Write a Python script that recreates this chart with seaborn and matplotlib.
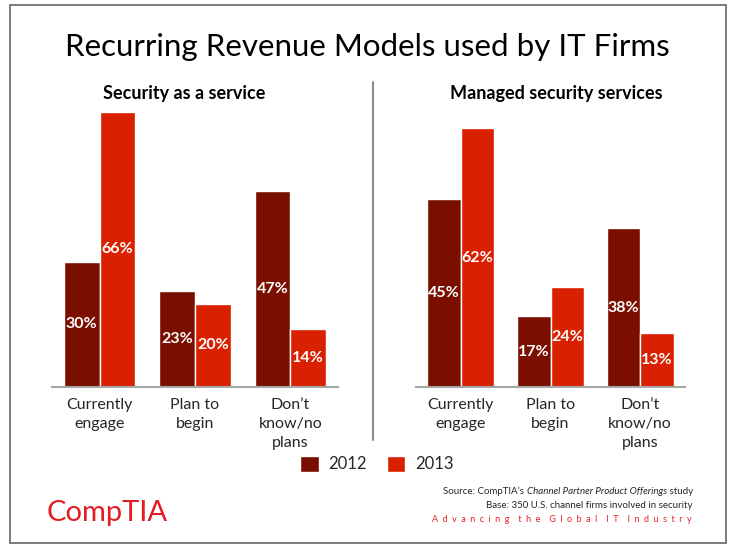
import pandas as pd
import seaborn as sns
import matplotlib.pyplot as plt
from matplotlib.lines import Line2D
from matplotlib.patches import Rectangle

# chart data
categories = ["Currently\nengage", "Plan to\nbegin", "Don’t\nknow/no\nplans"]
years = ["2012", "2013"]
saas_2012 = [30, 23, 47]
saas_2013 = [66, 20, 14]
mss_2012 = [45, 17, 38]
mss_2013 = [62, 24, 13]

colors = ["#7A0F00", "#D92000"]

sns.set_theme(style="white")
plt.rcParams['font.family'] = ['Lato', 'DejaVu Sans']


def long_form(v2012, v2013):
    rows = []
    for cat, a, b in zip(categories, v2012, v2013):
        rows.append({"category": cat, "year": "2012", "value": a})
        rows.append({"category": cat, "year": "2013", "value": b})
    return pd.DataFrame(rows)


W, H = 734, 552
fig = plt.figure(figsize=(W / 100, H / 100), dpi=100)


def px_axes(x0, x1, y_top, y_base):
    return fig.add_axes([x0 / W, (H - y_base) / H, (x1 - x0) / W, (y_base - y_top) / H])


panels = [
    (px_axes(52, 338, 99, 387), long_form(saas_2012, saas_2013), "Security as a service", 184),
    (px_axes(416, 685, 99, 387), long_form(mss_2012, mss_2013), "Managed security services", 556),
]

for ax, df, subtitle, sx in panels:
    sns.barplot(data=df, x="category", y="value", hue="year", hue_order=years,
                palette=colors, width=0.75, gap=0, edgecolor="white", linewidth=1,
                saturation=1, ax=ax)
    ax.set_ylim(0, 69)
    ax.set_xlim(-0.5, 2.5)
    ax.set_xlabel("")
    ax.set_ylabel("")
    ax.set_yticks([])
    ax.set_xticks(range(len(categories)))
    ax.set_xticklabels(categories, fontsize=11.5, linespacing=1.45)
    ax.tick_params(axis="x", length=0, pad=8)
    for s in ["top", "left", "right"]:
        ax.spines[s].set_visible(False)
    ax.spines["bottom"].set_color("#A6A6A6")
    ax.spines["bottom"].set_linewidth(1.5)
    for cont in ax.containers:
        for bar in cont:
            h = bar.get_height()
            ax.text(bar.get_x() + bar.get_width() / 2, h / 2, f"{h:.0f}%",
                    ha="center", va="center", color="white",
                    fontsize=11.5, fontweight="bold")
    handles, labels = ax.get_legend_handles_labels()
    ax.get_legend().remove()
    fig.text(sx / W, 1 - 93 / H, subtitle, ha="center", va="center",
             fontsize=13, fontweight="bold", color="black")

fig.text(0.5, 1 - 47 / H, "Recurring Revenue Models used by IT Firms",
         ha="center", va="center", fontsize=22.5, color="black")

fig.legend(handles, labels, loc="center", bbox_to_anchor=(377 / W, 1 - 464 / H),
           ncol=2, frameon=False, fontsize=12, handlelength=1.1, handleheight=1.1,
           columnspacing=1.2, handletextpad=0.6)

# divider and frame
fig.add_artist(Line2D([373 / W, 373 / W], [1 - 82 / H, 1 - 440 / H],
                      color="#8C8C8C", lw=1.5))
fig.add_artist(Rectangle((10 / W, 1 - 543 / H), 716 / W, 538 / H, fill=False,
                         edgecolor="#666666", lw=1.2))

# source notes
t1 = fig.text(693 / W, 1 - 492 / H, " study", ha="right", va="center", fontsize=7)
t2 = plt.annotate("Channel Partner Product Offerings", xy=(0, 0), xycoords=t1,
                  ha="right", va="bottom", fontsize=7, style="italic",
                  annotation_clip=False)
t3 = plt.annotate("Source: CompTIA’s ", xy=(0, 0), xycoords=t2,
                  ha="right", va="bottom", fontsize=7, annotation_clip=False)
fig.text(693 / W, 1 - 505 / H, "Base: 350 U.S. channel firms involved in security",
         ha="right", va="center", fontsize=7)
tagline = "    ".join("  ".join(w) for w in "Advancing the Global IT Industry".split())
fig.text(692 / W, 1 - 520 / H, tagline,
         ha="right", va="center", fontsize=6.5, color="#E8202A")

fig.text(47 / W, 1 - 513 / H, "CompTIA", ha="left", va="center",
         fontsize=21, color="#E31B23")

fig.savefig("out.png", dpi=100)
